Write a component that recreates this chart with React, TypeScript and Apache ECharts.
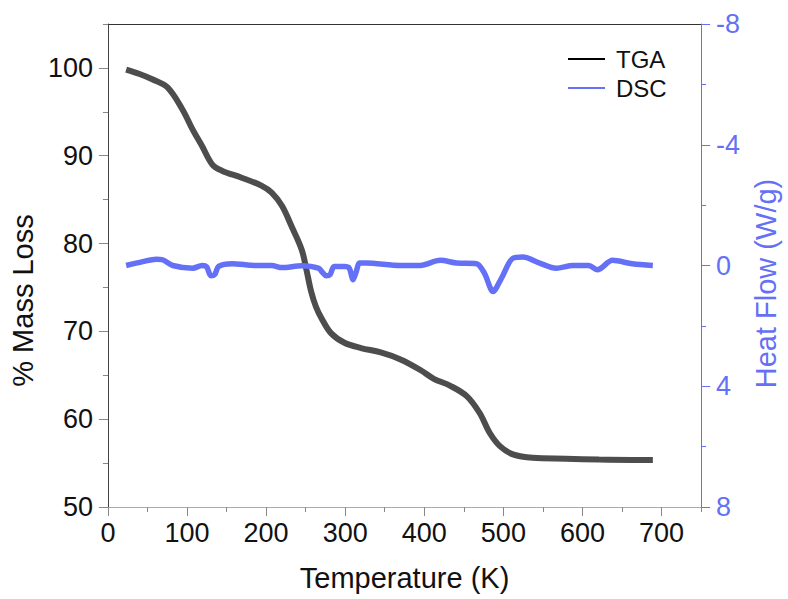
import React, { useEffect, useRef } from "react";
import * as echarts from "echarts";

// TGA curve (temperature K, % mass)
const tgaT = [23, 40, 56, 75, 94, 107, 119, 132, 144, 169, 194, 207, 220, 232, 245, 251, 257, 263, 270, 282, 299, 320, 345, 370, 395, 412, 433, 454, 470, 483, 496, 512, 537, 579, 621, 663, 689];
const tgaMass = [99.8, 99.3, 98.7, 97.8, 95.3, 93.0, 91.1, 89.0, 88.3, 87.5, 86.6, 85.8, 84.3, 82.0, 79.3, 77.0, 74.5, 72.8, 71.5, 69.8, 68.7, 68.1, 67.6, 66.8, 65.6, 64.6, 63.8, 62.6, 60.7, 58.4, 56.9, 56.0, 55.6, 55.5, 55.4, 55.36, 55.36];

// DSC curve (temperature K, heat flow W/g)
const dscT = [23, 44, 61, 69, 82, 107, 119, 125, 130, 135, 140, 157, 186, 207, 220, 245, 266, 272, 276, 281, 286, 299, 305, 310, 314, 318, 326, 370, 395, 420, 441, 466, 476, 487, 498, 512, 525, 546, 567, 588, 608, 619, 638, 663, 689];
const dscHeat = [0, -0.13, -0.21, -0.19, 0, 0.09, 0, 0.05, 0.34, 0.3, 0.03, -0.06, 0, 0, 0.07, 0.01, 0.09, 0.25, 0.34, 0.3, 0.03, 0.03, 0.08, 0.47, 0.2, -0.08, -0.08, 0, 0, -0.17, -0.08, -0.06, 0.25, 0.86, 0.4, -0.24, -0.28, -0.08, 0.09, 0, 0, 0.14, -0.17, -0.06, 0];

// Tick values
const xMajor = [0, 100, 200, 300, 400, 500, 600, 700];
const xMinor = [50, 150, 250, 350, 450, 550, 650, 750];
const yMajor = [50, 60, 70, 80, 90, 100];
const yMinor = [55, 65, 75, 85, 95, 105];

const TGA_COLOR = "#4d4d4d";
const DSC_COLOR = "#6470f5";
const FONT = "Liberation Sans, Arial, sans-serif";

export default function App() {
  const ref = useRef<HTMLDivElement>(null);
  useEffect(() => {
    if (!ref.current) return;
    const chart = echarts.init(ref.current, undefined, { renderer: "svg" });
    const tgaData = tgaT.map((t, i) => [t, tgaMass[i]]);
    const dscData = dscT.map((t, i) => [t, dscHeat[i]]);
    chart.setOption({
      animation: false,
      backgroundColor: "#ffffff",
      textStyle: { fontFamily: FONT },
      grid: { left: 105, right: 85, top: 24, bottom: 92, containLabel: false },
      legend: {
        orient: "vertical",
        left: 568,
        top: 47,
        padding: 0,
        itemWidth: 37,
        itemHeight: 2,
        itemGap: 5,
        icon: "rect",
        textStyle: { fontSize: 24, color: "#111", fontFamily: FONT, padding: [0, 0, 0, 6] },
        data: [
          { name: "TGA", itemStyle: { color: "#000000" } },
          { name: "DSC", itemStyle: { color: DSC_COLOR } },
        ],
      },
      xAxis: [
        {
          type: "value",
          min: 0,
          max: 750,
          position: "bottom",
          axisLine: { show: true, onZero: false, lineStyle: { color: "#aaaaaa", width: 1 } },
          axisTick: { show: true, customValues: xMajor, length: 9, lineStyle: { color: "#888888" } },
          axisLabel: { customValues: xMajor, fontSize: 27, color: "#111", margin: 12, fontFamily: FONT },
          splitLine: { show: false },
          name: "Temperature (K)",
          nameLocation: "middle",
          nameGap: 56,
          nameTextStyle: { fontSize: 29, color: "#111", fontFamily: FONT },
        },
        {
          type: "value",
          min: 0,
          max: 750,
          position: "bottom",
          axisLine: { show: false, onZero: false },
          axisTick: { show: true, customValues: xMinor, length: 5, lineStyle: { color: "#888888" } },
          axisLabel: { show: false },
          splitLine: { show: false },
        },
        {
          type: "value",
          min: 0,
          max: 750,
          position: "top",
          axisLine: { show: true, onZero: false, lineStyle: { color: "#333333", width: 1 } },
          axisTick: { show: false },
          axisLabel: { show: false },
          splitLine: { show: false },
        },
      ],
      yAxis: [
        {
          type: "value",
          min: 50,
          max: 105,
          position: "left",
          axisLine: { show: true, onZero: false, lineStyle: { color: "#444444", width: 1 } },
          axisTick: { show: true, customValues: yMajor, length: 9, lineStyle: { color: "#888888" } },
          axisLabel: { customValues: yMajor, fontSize: 27, color: "#111", margin: 15, fontFamily: FONT },
          splitLine: { show: false },
          name: "% Mass Loss",
          nameLocation: "middle",
          nameGap: 66,
          nameTextStyle: { fontSize: 29, color: "#111", fontFamily: FONT, padding: [0, 70, 0, 0] },
        },
        {
          type: "value",
          min: 50,
          max: 105,
          position: "left",
          axisLine: { show: false, onZero: false },
          axisTick: { show: true, customValues: yMinor, length: 5, lineStyle: { color: "#888888" } },
          axisLabel: { show: false },
          splitLine: { show: false },
        },
        {
          type: "value",
          min: -8,
          max: 8,
          interval: 4,
          inverse: true,
          position: "right",
          axisLine: { show: true, onZero: false, lineStyle: { color: DSC_COLOR, width: 1 } },
          axisTick: { show: true, length: 9, lineStyle: { color: DSC_COLOR } },
          minorTick: { show: true, splitNumber: 2, length: 5, lineStyle: { color: DSC_COLOR } },
          axisLabel: { fontSize: 27, color: DSC_COLOR, margin: 15, fontFamily: FONT },
          splitLine: { show: false },
          minorSplitLine: { show: false },
          name: "Heat Flow (W/g)",
          nameLocation: "middle",
          nameGap: 48,
          nameTextStyle: { fontSize: 29, color: DSC_COLOR, fontFamily: FONT, padding: [0, 36, 0, 0] },
        },
      ],
      series: [
        {
          name: "TGA",
          type: "line",
          xAxisIndex: 0,
          yAxisIndex: 0,
          data: tgaData,
          smooth: 0.35,
          showSymbol: false,
          lineStyle: { color: TGA_COLOR, width: 6 },
          itemStyle: { color: "#000000" },
        },
        {
          name: "DSC",
          type: "line",
          xAxisIndex: 0,
          yAxisIndex: 2,
          data: dscData,
          smooth: 0.3,
          showSymbol: false,
          lineStyle: { color: DSC_COLOR, width: 5.5 },
          itemStyle: { color: DSC_COLOR },
        },
      ],
    });
    return () => chart.dispose();
  }, []);
  return (
    <div
      ref={ref}
      style={{ position: "fixed", left: 0, top: 0, width: 788, height: 599, background: "#fff" }}
    />
  );
}
